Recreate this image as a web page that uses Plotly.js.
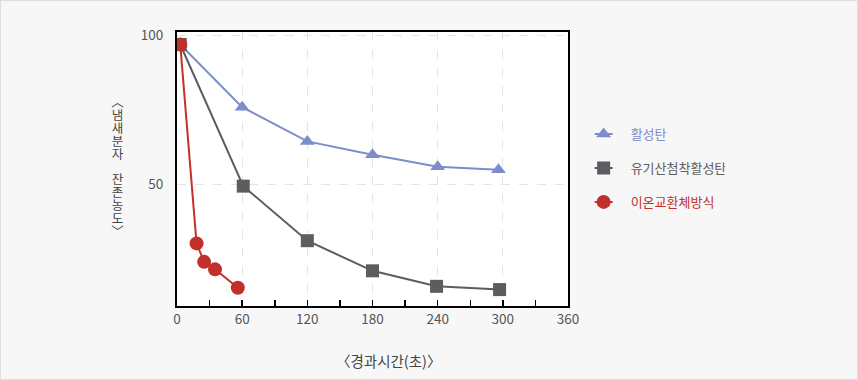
<!DOCTYPE html>
<html>
<head>
<meta charset="utf-8">
<script src="https://cdn.plot.ly/plotly-3.0.1.min.js"></script>
<style>
  html, body { margin: 0; padding: 0; background: #f7f7f7; }
  #chart { width: 858px; height: 380px; }
  #frame { position: absolute; left: 0; top: 0; width: 856px; height: 378px; border: 1px solid #dedede; pointer-events: none; }
  #ytitle { position: absolute; left: 110px; top: 96px; writing-mode: vertical-rl; text-orientation: mixed;
            font-family: "Noto Sans CJK KR", sans-serif; font-size: 12.5px; line-height: 14px; letter-spacing: 0.4px;
            color: #444; white-space: nowrap; }
</style>
</head>
<body>
<div id="chart"></div>
<div id="frame"></div>
<div id="ytitle"></div>
<script>
// ---- data ----
const seriesNames = ['활성탄', '유기산첨착활성탄', '이온교환체방식'];
const timeCarbon = [3, 60, 120, 180, 240, 296];
const valCarbon  = [97, 76, 64.5, 60, 56, 55];
const timeAcid   = [3, 61, 120, 180, 239, 297];
const valAcid    = [97, 49.5, 31.2, 21.1, 15.9, 14.8];
const timeIon    = [3, 18, 25, 35, 56];
const valIon     = [97, 30.3, 24.1, 21.6, 15.4];
const xTickVals  = [0, 60, 120, 180, 240, 300, 360];
const yTickVals  = [50, 100];
const xTitle = '〈경과시간(초)〉';
const yTitle = '〈냄새분자\u2003잔존농도〉';

const colors = ['#7d8cca', '#5c5c61', '#c1302b'];
const FONT = '"Noto Sans CJK KR", "Noto Sans", sans-serif';

document.getElementById('ytitle').textContent = yTitle;

const traces = [
  { x: timeCarbon, y: valCarbon, name: seriesNames[0], legendgroup: 'a',
    mode: 'lines+markers', line: { color: colors[0], width: 2 },
    marker: { symbol: 'triangle-up', size: 13, color: colors[0] } },
  { x: timeAcid, y: valAcid, name: seriesNames[1], legendgroup: 'b',
    mode: 'lines+markers', line: { color: colors[1], width: 2 },
    marker: { symbol: 'square', size: 13, color: colors[1] } },
  { x: timeIon, y: valIon, name: seriesNames[2], legendgroup: 'c',
    mode: 'lines+markers', line: { color: colors[2], width: 2 },
    marker: { symbol: 'circle', size: 14, color: colors[2] } }
];

const plotTop = 32, plotBottom = 306, plotLeft = 177, plotRight = 568;
const annotations = [{
  xref: 'paper', yref: 'paper',
  x: (389 - plotLeft) / (plotRight - plotLeft), y: (plotBottom - 360) / (plotBottom - plotTop),
  xanchor: 'center', yanchor: 'middle', showarrow: false,
  text: xTitle, font: { family: FONT, size: 14.5, color: '#444' }
}];

const layout = {
  width: 858, height: 380,
  margin: { l: 177, r: 290, t: 32, b: 74 },
  paper_bgcolor: '#f7f7f7', plot_bgcolor: '#ffffff',
  font: { family: FONT, size: 12, color: '#555' },
  showlegend: true,
  legend: {
    x: 1.04, y: 0.682, xanchor: 'left', yanchor: 'top',
    bgcolor: 'rgba(0,0,0,0)', tracegroupgap: 14, itemwidth: 30,
    font: { family: FONT, size: 13, color: '#555' }
  },
  xaxis: {
    range: [0, 360], tickvals: xTickVals, ticktext: xTickVals.map(String),
    ticks: 'inside', ticklen: 6, tickwidth: 1.5, tickcolor: '#000',
    minor: { dtick: 30, tick0: 0, ticks: 'inside', ticklen: 6, tickwidth: 1.5, tickcolor: '#000', showgrid: false },
    showline: true, linecolor: '#000', linewidth: 2, mirror: true,
    showgrid: true, gridcolor: '#e4e4e4', griddash: 'dash', gridwidth: 1,
    zeroline: false, fixedrange: true,
    tickfont: { family: FONT, size: 13.5, color: '#555' }
  },
  yaxis: {
    range: [9.3, 101.2], tickvals: yTickVals, ticktext: yTickVals.map(String),
    ticks: '', ticklabelstandoff: 9,
    showline: true, linecolor: '#000', linewidth: 2, mirror: true,
    showgrid: true, gridcolor: '#e4e4e4', griddash: 'dash', gridwidth: 1,
    zeroline: false, fixedrange: true,
    tickfont: { family: FONT, size: 13.5, color: '#555' }
  },
  annotations: annotations
};

Plotly.newPlot('chart', traces, layout, { displayModeBar: false, staticPlot: true }).then(() => {
  document.querySelectorAll('.legend .traces').forEach((g, i) => {
    const t = g.querySelector('text.legendtext');
    if (t) { t.style.fill = colors[i]; t.setAttribute('x', 47); }
    g.querySelectorAll('.legendlines path').forEach(p => p.setAttribute('d', 'M11,0h18'));
  });
});
</script>
</body>
</html>
